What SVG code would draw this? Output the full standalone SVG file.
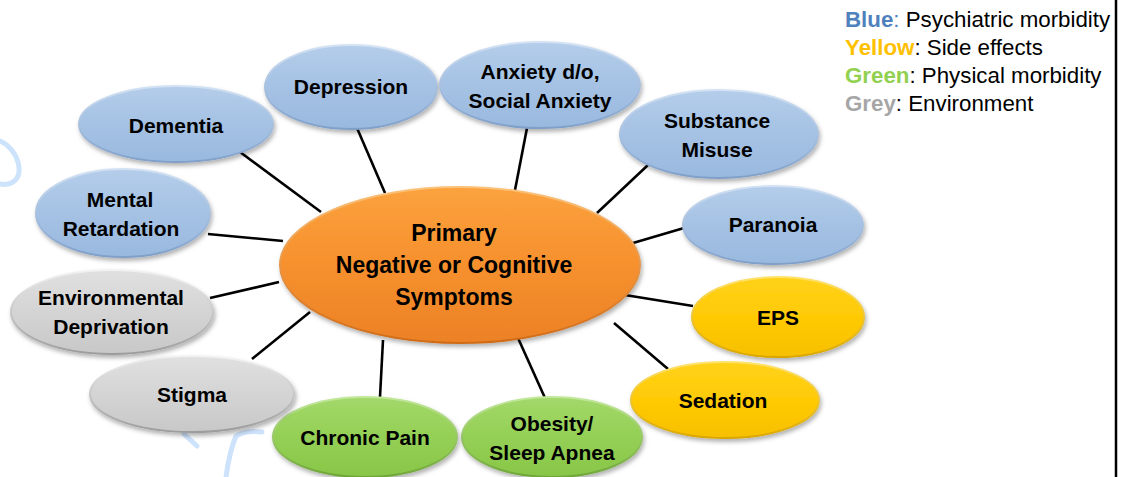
<svg xmlns="http://www.w3.org/2000/svg" width="1125" height="477" viewBox="0 0 1125 477">
  <defs>
    <style>
      .lbl { font-family: "Liberation Sans", Arial, sans-serif; font-weight: bold; font-size: 21px; fill: #000; text-anchor: middle; }
      .core { font-size: 23px; }
      .conn { stroke: #000; stroke-width: 2.6; stroke-linecap: butt; fill: none; }
      .leg { font-family: "Liberation Sans", Arial, sans-serif; font-size: 22.3px; fill: #000; }
      .legkey { font-weight: bold; }
      .deco { stroke: #cde2fb; stroke-width: 5; fill: none; stroke-linecap: round; }
      .blue { fill: url(#gBlue); stroke: url(#sBlue); stroke-width: 2; filter: url(#shadow); }
      .grey { fill: url(#gGrey); stroke: url(#sGrey); stroke-width: 2; filter: url(#shadow); }
      .green { fill: url(#gGreen); stroke: url(#sGreen); stroke-width: 2; filter: url(#shadow); }
      .yellow { fill: url(#gYellow); stroke: url(#sYellow); stroke-width: 2; filter: url(#shadow); }
      .orange { fill: url(#gOrange); stroke: url(#sOrange); stroke-width: 2; filter: url(#shadow); }
    </style>
    <filter id="shadow" x="-20%" y="-20%" width="140%" height="150%">
      <feDropShadow dx="1.5" dy="3" stdDeviation="2" flood-color="#000" flood-opacity="0.3"/>
    </filter>
    <linearGradient id="gBlue" x1="0" y1="0" x2="0" y2="1">
      <stop offset="0" stop-color="#b4cdea"/>
      <stop offset="0.5" stop-color="#a5c2e4"/>
      <stop offset="1" stop-color="#9ab9df"/>
    </linearGradient>
    <linearGradient id="sBlue" x1="0" y1="0" x2="0" y2="1">
      <stop offset="0" stop-color="#d3e2f4"/>
      <stop offset="1" stop-color="#7f9fc9"/>
    </linearGradient>
    <linearGradient id="gGrey" x1="0" y1="0" x2="0" y2="1">
      <stop offset="0" stop-color="#e0e0e0"/>
      <stop offset="0.5" stop-color="#d4d4d4"/>
      <stop offset="1" stop-color="#c8c8c8"/>
    </linearGradient>
    <linearGradient id="sGrey" x1="0" y1="0" x2="0" y2="1">
      <stop offset="0" stop-color="#f2f2f2"/>
      <stop offset="1" stop-color="#9c9c9c"/>
    </linearGradient>
    <linearGradient id="gGreen" x1="0" y1="0" x2="0" y2="1">
      <stop offset="0" stop-color="#a3d86a"/>
      <stop offset="0.5" stop-color="#94d055"/>
      <stop offset="1" stop-color="#88c648"/>
    </linearGradient>
    <linearGradient id="sGreen" x1="0" y1="0" x2="0" y2="1">
      <stop offset="0" stop-color="#c2e89a"/>
      <stop offset="1" stop-color="#6fa638"/>
    </linearGradient>
    <linearGradient id="gYellow" x1="0" y1="0" x2="0" y2="1">
      <stop offset="0" stop-color="#ffd21a"/>
      <stop offset="0.5" stop-color="#ffca05"/>
      <stop offset="1" stop-color="#f7c000"/>
    </linearGradient>
    <linearGradient id="sYellow" x1="0" y1="0" x2="0" y2="1">
      <stop offset="0" stop-color="#ffe26a"/>
      <stop offset="1" stop-color="#d9a600"/>
    </linearGradient>
    <linearGradient id="gOrange" x1="0" y1="0" x2="0" y2="1">
      <stop offset="0" stop-color="#fba23e"/>
      <stop offset="0.45" stop-color="#f7922f"/>
      <stop offset="1" stop-color="#ec8125"/>
    </linearGradient>
    <linearGradient id="sOrange" x1="0" y1="0" x2="0" y2="1">
      <stop offset="0" stop-color="#fcc27a"/>
      <stop offset="1" stop-color="#cf6b18"/>
    </linearGradient>
  </defs>

  <rect width="1125" height="477" fill="#ffffff"/>

  <!-- faint light-blue background strokes -->
  <g id="decoration">
    <path class="deco" d="M0,141 C12,146 20,160 19,172 C18,182 8,186 0,184"/>
    <path class="deco" d="M184,434 L197,446"/>
    <path class="deco" d="M236,436 C230,450 228,462 226,477"/>
    <path class="deco" d="M238,435 C245,431 254,431 262,432"/>
  </g>

  <!-- right-hand frame line -->
  <line x1="1116" y1="0" x2="1116" y2="477" stroke="#000" stroke-width="2.5"/>

  <!-- connectors from the central node -->
  <g id="connectors">
    <line class="conn" x1="240" y1="152" x2="321" y2="212"/>
    <line class="conn" x1="357" y1="128" x2="385" y2="193"/>
    <line class="conn" x1="527" y1="128" x2="515" y2="190"/>
    <line class="conn" x1="648" y1="165" x2="597" y2="213"/>
    <line class="conn" x1="684" y1="228" x2="633" y2="243"/>
    <line class="conn" x1="693" y1="306" x2="625" y2="295"/>
    <line class="conn" x1="668" y1="369" x2="614" y2="323"/>
    <line class="conn" x1="545" y1="398" x2="518" y2="338"/>
    <line class="conn" x1="380" y1="397" x2="383" y2="340"/>
    <line class="conn" x1="252" y1="359" x2="310" y2="312"/>
    <line class="conn" x1="210" y1="298" x2="279" y2="282"/>
    <line class="conn" x1="208" y1="234" x2="283" y2="241"/>
  </g>

  <g id="node-core">
    <ellipse class="orange" cx="460" cy="265" rx="180" ry="78"/>
    <text class="lbl core" x="454" y="241">Primary</text>
    <text class="lbl core" x="454" y="273">Negative or Cognitive</text>
    <text class="lbl core" x="454" y="305">Symptoms</text>
  </g>

  <g id="node-dementia">
    <ellipse class="blue" cx="176" cy="124" rx="97" ry="38"/>
    <text class="lbl" x="176" y="133">Dementia</text>
  </g>

  <g id="node-depression">
    <ellipse class="blue" cx="351" cy="87" rx="86" ry="42"/>
    <text class="lbl" x="351" y="94">Depression</text>
  </g>

  <g id="node-anxiety">
    <ellipse class="blue" cx="540" cy="85" rx="100" ry="43"/>
    <text class="lbl" x="540" y="79">Anxiety d/o,</text>
    <text class="lbl" x="540" y="108">Social Anxiety</text>
  </g>

  <g id="node-substance">
    <ellipse class="blue" cx="719" cy="134" rx="99" ry="44"/>
    <text class="lbl" x="717" y="128">Substance</text>
    <text class="lbl" x="717" y="157">Misuse</text>
  </g>

  <g id="node-paranoia">
    <ellipse class="blue" cx="773" cy="225" rx="90" ry="39"/>
    <text class="lbl" x="773" y="232">Paranoia</text>
  </g>

  <g id="node-eps">
    <ellipse class="yellow" cx="778" cy="317" rx="86" ry="40"/>
    <text class="lbl" x="778" y="325">EPS</text>
  </g>

  <g id="node-sedation">
    <ellipse class="yellow" cx="725" cy="400" rx="94" ry="38"/>
    <text class="lbl" x="723" y="408">Sedation</text>
  </g>

  <g id="node-obesity">
    <ellipse class="green" cx="552" cy="437" rx="90" ry="40"/>
    <text class="lbl" x="552" y="431">Obesity/</text>
    <text class="lbl" x="552" y="460">Sleep Apnea</text>
  </g>

  <g id="node-chronic-pain">
    <ellipse class="green" cx="365" cy="437" rx="92" ry="40"/>
    <text class="lbl" x="365" y="445">Chronic Pain</text>
  </g>

  <g id="node-stigma">
    <ellipse class="grey" cx="192" cy="394" rx="102" ry="38"/>
    <text class="lbl" x="192" y="402">Stigma</text>
  </g>

  <g id="node-environmental">
    <ellipse class="grey" cx="112" cy="312" rx="101" ry="42"/>
    <text class="lbl" x="111" y="305">Environmental</text>
    <text class="lbl" x="111" y="334">Deprivation</text>
  </g>

  <g id="node-mental">
    <ellipse class="blue" cx="123" cy="213" rx="87" ry="44"/>
    <text class="lbl" x="120" y="207">Mental</text>
    <text class="lbl" x="121" y="236">Retardation</text>
  </g>

  <!-- colour key -->
  <g id="legend">
    <text class="leg" x="845" y="27"><tspan class="legkey" fill="#4f81bd">Blue</tspan><tspan fill="#4f81bd">:</tspan> Psychiatric morbidity</text>
    <text class="leg" x="845" y="55"><tspan class="legkey" fill="#ffc000">Yellow</tspan>: Side effects</text>
    <text class="leg" x="845" y="83"><tspan class="legkey" fill="#92d050">Green</tspan>: Physical morbidity</text>
    <text class="leg" x="845" y="111"><tspan class="legkey" fill="#a6a6a6">Grey</tspan>: Environment</text>
  </g>
</svg>
